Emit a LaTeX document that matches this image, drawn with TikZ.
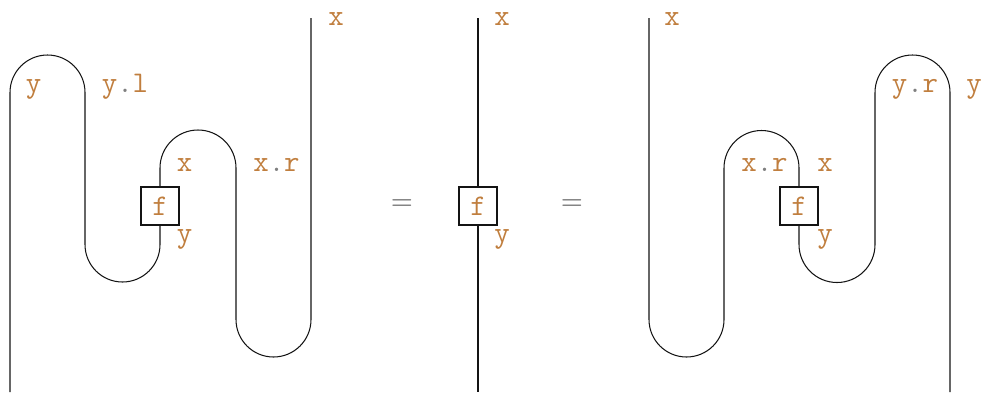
\documentclass[tikz,border=0pt]{standalone}
\usepackage{fontspec}
\definecolor{lblc}{RGB}{192,126,62}
\definecolor{eqc}{RGB}{80,80,80}
\definecolor{wirec}{RGB}{20,20,20}
\newcommand{\gdot}{\textcolor{gray}{.}}
\begin{document}
\begin{tikzpicture}[x=1pt,y=-1pt,
  wire/.style={draw=wirec,line width=1.05pt},
  lbl/.style={text=lblc,font=\ttfamily\fontsize{30}{30}\selectfont,inner sep=0pt,anchor=base},
  eqsign/.style={text=eqc,font=\fontsize{30}{30}\selectfont,inner sep=0pt},
  fbox/.style={draw=wirec,line width=1.05pt,fill=white,minimum width=38pt,minimum height=38pt,inner sep=0pt,text=lblc,font=\ttfamily\fontsize{30}{30}\selectfont}]
\useasboundingbox (0,0) rectangle (981,392);
% boxes
\node[fbox] (f1) at (160,206) {f};
\node[fbox] (f2) at (478,206) {f};
\node[fbox] (f3) at (799,206) {f};
% free ends
\coordinate (b1) at (10,392);
\coordinate (t1) at (311,18);
\coordinate (t2) at (478,18);
\coordinate (b2) at (478,392);
\coordinate (t3) at (649,18);
\coordinate (b3) at (950,392);
% left diagram
\draw[wire] (b1) -- (10,92.5) arc[start angle=180,end angle=360,radius=37.5]
  -- (85,244.5) arc[start angle=180,end angle=0,radius=37.5] -- (f1.south);
\draw[wire] (f1.north) -- (160,168) arc[start angle=180,end angle=360,radius=38]
  -- (236,319.5) arc[start angle=180,end angle=0,radius=37.5] -- (t1);
% middle
\draw[wire] (t2) -- (f2.north);
\draw[wire] (f2.south) -- (b2);
% right diagram
\draw[wire] (t3) -- (649,319.5) arc[start angle=180,end angle=0,radius=37.5]
  -- (724,168) arc[start angle=180,end angle=360,radius=37.5] -- (f3.north);
\draw[wire] (f3.south) -- (799,244.5) arc[start angle=180,end angle=0,radius=38]
  -- (875,92.5) arc[start angle=180,end angle=360,radius=37.5] -- (b3);
% labels left
\node[lbl] (l1) at (33.5,92) {y};
\node[lbl] (l2) at (125,92) {y\gdot l};
\node[lbl] (l3) at (184.5,171) {x};
\node[lbl] (l4) at (276.5,171) {x\gdot r};
\node[lbl] (l5) at (184.5,242) {y};
\node[lbl] (l6) at (336,25) {x};
% equals
\node[eqsign] (e1) at (402,205) {=};
\node[eqsign] (e2) at (572,205) {=};
% labels middle
\node[lbl] (m1) at (502,25) {x};
\node[lbl] (m2) at (502,242) {y};
% labels right
\node[lbl] (r1) at (672,25) {x};
\node[lbl] (r2) at (764.5,171) {x\gdot r};
\node[lbl] (r3) at (825,171) {x};
\node[lbl] (r4) at (825,242) {y};
\node[lbl] (r5) at (915,92) {y\gdot r};
\node[lbl] (r6) at (974,92) {y};
\end{tikzpicture}
\end{document}
